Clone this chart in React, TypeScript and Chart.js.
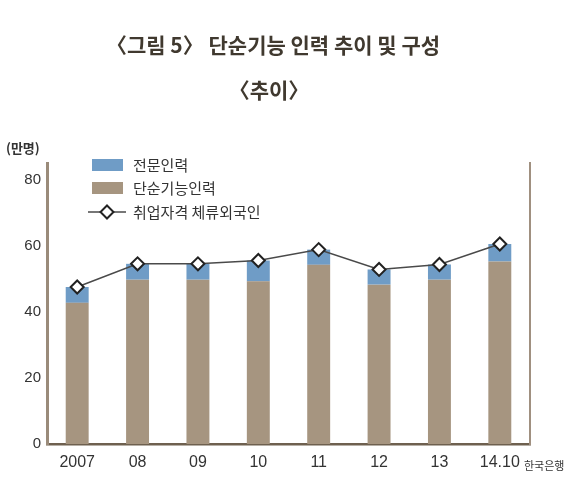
import { useEffect, useRef } from "react";
import { Chart, registerables } from "chart.js";

Chart.register(...registerables);

const categories = ["2007", "08", "09", "10", "11", "12", "13", "14.10"];
const simpleSkilled = [42.7, 49.7, 49.7, 49.2, 54.2, 48.2, 49.7, 55.2];
const professional = [4.8, 4.8, 4.8, 6.3, 4.6, 4.6, 4.6, 5.3];
const totalWorkers = [47.5, 54.5, 54.5, 55.5, 58.8, 52.8, 54.3, 60.5];
const yTicks = [0, 20, 40, 60, 80];
const seriesLabels = ["전문인력", "단순기능인력", "취업자격 체류외국인"];
const titleText = "〈그림 5〉 단순기능 인력 추이 및 구성";
const subtitleText = "〈추이〉";
const unitText = "(만명)";
const sourceText = "한국은행";

const BLUE = "#6f9cc6";
const BROWN = "#a69580";
const FONT = "'Noto Sans CJK KR', 'Noto Sans', sans-serif";
const TICK_FONT = "'Liberation Sans', Arial, sans-serif";

const overlay = {
  id: "overlay",
  afterDraw(chart: any) {
    const ctx = chart.ctx;
    const area = chart.chartArea;
    ctx.save();
    ctx.fillStyle = "#40392f";
    ctx.textAlign = "center";
    ctx.textBaseline = "middle";
    ctx.font = `bold 21px ${FONT}`;
    ctx.fillText(titleText, 273, 45);
    ctx.fillText(subtitleText, 269, 90);

    ctx.font = `bold 13px ${FONT}`;
    ctx.textAlign = "left";
    ctx.fillStyle = "#333";
    ctx.fillText(unitText, 6, 148);

    ctx.font = `11px ${FONT}`;
    ctx.fillText(sourceText, 524, 466);

    // legend
    const lx = area.left + 45;
    const rows = [area.top + 2, area.top + 25, area.top + 49];
    const ds = chart.data.datasets;
    ctx.font = `15px ${FONT}`;
    ctx.textBaseline = "middle";
    ctx.fillStyle = ds[2].backgroundColor;
    ctx.fillRect(lx, rows[0] - 6, 31, 12);
    ctx.fillStyle = ds[1].backgroundColor;
    ctx.fillRect(lx, rows[1] - 6, 31, 12);
    ctx.fillStyle = "#333";
    ctx.fillText(seriesLabels[0], lx + 41, rows[0]);
    ctx.fillText(seriesLabels[1], lx + 41, rows[1]);
    ctx.fillText(seriesLabels[2], lx + 41, rows[2]);
    // line marker
    ctx.strokeStyle = ds[0].borderColor;
    ctx.lineWidth = 1.5;
    ctx.beginPath();
    ctx.moveTo(lx - 4, rows[2]);
    ctx.lineTo(lx + 34, rows[2]);
    ctx.stroke();
    ctx.fillStyle = "#fff";
    ctx.strokeStyle = "#222";
    ctx.lineWidth = 2;
    const cx = lx + 15;
    const r = 6.5;
    ctx.beginPath();
    ctx.moveTo(cx, rows[2] - r);
    ctx.lineTo(cx + r, rows[2]);
    ctx.lineTo(cx, rows[2] + r);
    ctx.lineTo(cx - r, rows[2]);
    ctx.closePath();
    ctx.fill();
    ctx.stroke();
    ctx.restore();
  },
};

export default function App() {
  const ref = useRef<HTMLCanvasElement>(null);
  useEffect(() => {
    document.body.style.margin = "0";
    const chart = new Chart(ref.current as HTMLCanvasElement, {
      type: "bar",
      data: {
        labels: categories,
        datasets: [
          {
            type: "line",
            label: seriesLabels[2],
            data: totalWorkers,
            borderColor: "#4a4a4a",
            borderWidth: 1.5,
            pointStyle: "rectRot",
            pointRadius: 6.5,
            pointBackgroundColor: "#ffffff",
            pointBorderColor: "#222222",
            pointBorderWidth: 2,
            stack: "total",
            order: 0,
          } as any,
          {
            type: "bar",
            label: seriesLabels[1],
            data: simpleSkilled,
            backgroundColor: BROWN,
            stack: "workers",
            order: 1,
            categoryPercentage: 1,
            barPercentage: 0.38,
          },
          {
            type: "bar",
            label: seriesLabels[0],
            data: professional,
            backgroundColor: BLUE,
            stack: "workers",
            order: 2,
            categoryPercentage: 1,
            barPercentage: 0.38,
          },
        ],
      },
      options: {
        animation: false,
        responsive: false,
        layout: { padding: { top: 163, left: 0, right: 0, bottom: 0 } },
        plugins: {
          legend: { display: false },
          tooltip: { enabled: false },
          title: { display: false },
        },
        scales: {
          x: {
            stacked: true,
            grid: { display: false, drawTicks: false },
            border: { display: true, color: "#6e604f", width: 2.5 },
            ticks: {
              color: "#333",
              font: { family: TICK_FONT, size: 16 },
              padding: 9,
            },
            afterFit(scale: any) {
              scale.height = 38;
            },
          },
          y: {
            stacked: true,
            min: 0,
            max: 85,
            position: "left",
            grid: { display: false, drawTicks: false },
            border: { display: true, color: "#9a8b7a", width: 3 },
            ticks: {
              color: "#333",
              font: { family: TICK_FONT, size: 15 },
              padding: 6,
            },
            afterBuildTicks(scale: any) {
              scale.ticks = yTicks.map((v) => ({ value: v }));
            },
            afterFit(scale: any) {
              scale.width = 47;
            },
          },
          y2: {
            position: "right",
            min: 0,
            max: 85,
            grid: { display: false, drawTicks: false },
            border: { display: true, color: "#a09080", width: 2 },
            ticks: { display: false },
            afterFit(scale: any) {
              scale.width = 40;
            },
          },
        },
      },
      plugins: [overlay],
    });
    return () => chart.destroy();
  }, []);
  return (
    <div style={{ position: "fixed", left: 0, top: 0, width: 570, height: 482, background: "#fff" }}>
      <canvas ref={ref} width={570} height={482} style={{ width: 570, height: 482 }} />
    </div>
  );
}
